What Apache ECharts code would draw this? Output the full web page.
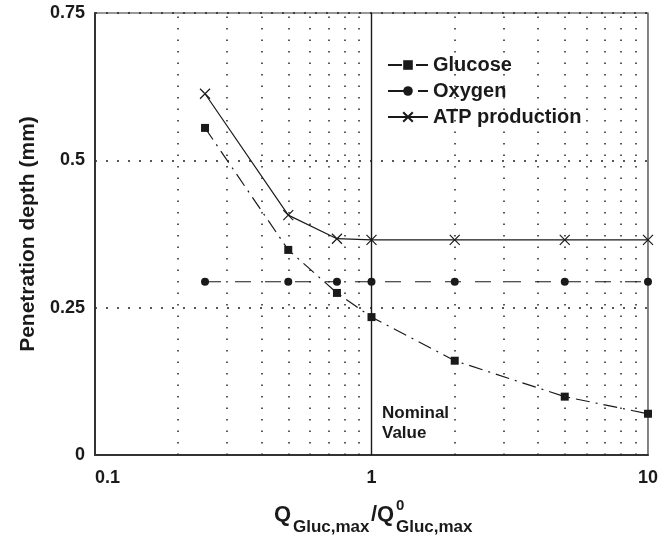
<!DOCTYPE html>
<html lang="en">
  <head>
    <meta charset="UTF-8" />
    <title>Penetration depth</title>
    <script src="https://cdn.jsdelivr.net/npm/echarts@6/dist/echarts.min.js"></script>
    <style>
      body { margin: 0; background: #fff; }
      #chart { width: 661px; height: 543px; }
    </style>
  </head>
  <body>
    <div id="chart"></div>
  </body>
  <script>
    const ratios = [0.25, 0.5, 0.75, 1, 2, 5, 10]
    const glucose = [0.555, 0.348, 0.275, 0.234, 0.16, 0.099, 0.07]
    const oxygen = [0.294, 0.294, 0.294, 0.294, 0.294, 0.294, 0.294]
    const atp = [0.613, 0.407, 0.367, 0.365, 0.365, 0.365, 0.365]
    const minorX = [0.2, 0.3, 0.4, 0.5, 0.6, 0.7, 0.8, 0.9, 2, 3, 4, 5, 6, 7, 8, 9]
    const xTicks = ['0.1', '1', '10']

    const font = "'Liberation Sans', Arial, Helvetica, sans-serif"
    const ink = '#1a1a1a'

    const pairs = ys => ratios.map((x, i) => [x, ys[i]])

    const chart = echarts.init(document.getElementById('chart'))

    const option = {
      animation: false,
      backgroundColor: '#fff',
      grid: {
        left: 95,
        right: 9,
        top: 13,
        bottom: 88,
        show: true,
        borderColor: '#333',
        borderWidth: 1.2
      },
      legend: {
        orient: 'vertical',
        left: 382,
        top: 50,
        itemWidth: 40,
        itemHeight: 12,
        itemGap: 6,
        textStyle: { fontFamily: font, fontWeight: 'bold', fontSize: 20, color: ink, lineHeight: 20 },
        data: ['Glucose', 'Oxygen', 'ATP production']
      },
      xAxis: {
        type: 'log',
        logBase: 10,
        min: 0.1,
        max: 10,
        axisLine: { lineStyle: { color: '#333', width: 2 } },
        axisTick: { show: false },
        splitLine: { show: false },
        axisLabel: {
          margin: 14,
          alignMinLabel: 'left',
          fontFamily: font,
          fontWeight: 'bold',
          fontSize: 18,
          color: ink,
          formatter: v => {
            const s = String(+v.toPrecision(3))
            return xTicks.indexOf(s) >= 0 ? s : ''
          }
        }
      },
      yAxis: {
        type: 'value',
        min: 0,
        max: 0.75,
        interval: 0.25,
        name: 'Penetration depth (mm)',
        nameLocation: 'middle',
        nameGap: 54,
        nameTextStyle: { fontFamily: font, fontWeight: 'bold', fontSize: 21, color: ink },
        axisLine: { lineStyle: { color: '#333', width: 2 } },
        axisTick: { show: false },
        splitLine: { lineStyle: { color: '#222', type: [2, 9], width: 1.5 } },
        axisLabel: {
          margin: 10,
          fontFamily: font,
          fontWeight: 'bold',
          fontSize: 18,
          color: ink,
          formatter: v => String(+v.toFixed(2))
        }
      },
      graphic: [
        {
          type: 'group',
          left: 274,
          top: 498,
          children: [
            { type: 'text', x: 0, y: 18, style: { text: 'Q', font: `bold 22px ${font}`, fill: ink, textVerticalAlign: 'middle' } },
            { type: 'text', x: 19, y: 31, style: { text: 'Gluc,max', font: `bold 17px ${font}`, fill: ink, textVerticalAlign: 'middle' } },
            { type: 'text', x: 97, y: 18, style: { text: '/Q', font: `bold 22px ${font}`, fill: ink, textVerticalAlign: 'middle' } },
            { type: 'text', x: 122, y: 9, style: { text: '0', font: `bold 15px ${font}`, fill: ink, textVerticalAlign: 'middle' } },
            { type: 'text', x: 122, y: 31, style: { text: 'Gluc,max', font: `bold 17px ${font}`, fill: ink, textVerticalAlign: 'middle' } }
          ]
        },
        {
          type: 'text',
          left: 382,
          top: 403,
          style: { text: 'Nominal\nValue', font: `bold 17px ${font}`, fill: ink, lineHeight: 20 }
        }
      ],
      series: [
        {
          name: 'Glucose',
          type: 'line',
          data: pairs(glucose),
          symbol: 'rect',
          symbolSize: 8,
          itemStyle: { color: ink },
          lineStyle: { color: ink, width: 1.2, type: [14, 6, 2, 6] },
          markLine: {
            silent: true,
            symbol: 'none',
            label: { show: false },
            lineStyle: { color: '#222', type: [1.5, 10], width: 1.5 },
            data: minorX.map(v => ({ xAxis: v }))
          },
          z: 3
        },
        {
          name: 'Oxygen',
          type: 'line',
          data: pairs(oxygen),
          symbol: 'circle',
          symbolSize: 8,
          itemStyle: { color: ink },
          lineStyle: { color: ink, width: 1.2, type: [16, 14] },
          markLine: {
            silent: true,
            symbol: 'none',
            label: { show: false },
            lineStyle: { color: ink, type: 'solid', width: 1.4 },
            data: [{ xAxis: 1 }]
          },
          z: 3
        },
        {
          name: 'ATP production',
          type: 'line',
          data: pairs(atp),
          symbol: 'path://M0,0L10,10M10,0L0,10',
          symbolSize: 10,
          itemStyle: { color: ink, borderColor: ink, borderWidth: 1.2 },
          lineStyle: { color: ink, width: 1.2 },
          z: 3
        }
      ]
    }

    chart.setOption(option)
  </script>
</html>
